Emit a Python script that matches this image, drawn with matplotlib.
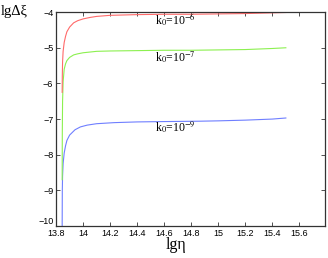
import matplotlib
matplotlib.use("Agg")
import matplotlib.pyplot as plt
from matplotlib.ticker import FuncFormatter

plt.rcParams["mathtext.fontset"] = "stix"

# data
x_red = [13.845, 13.846, 13.848, 13.852, 13.86, 13.87, 13.88, 13.9, 13.93, 13.96, 14.0, 14.05, 14.1, 14.2, 14.4, 14.6, 14.8, 15.0, 15.2, 15.4, 15.5]
y_red = [-6.25, -5.8, -5.4, -5.1, -4.85, -4.68, -4.55, -4.42, -4.3, -4.24, -4.19, -4.15, -4.12, -4.09, -4.07, -4.06, -4.06, -4.05, -4.04, -4.02, -4.01]

x_green = [13.845, 13.846, 13.848, 13.852, 13.86, 13.87, 13.88, 13.9, 13.93, 13.96, 14.0, 14.05, 14.1, 14.2, 14.4, 14.6, 14.8, 15.0, 15.2, 15.4, 15.5]
y_green = [-8.7, -7.4, -6.5, -5.95, -5.6, -5.45, -5.36, -5.27, -5.2, -5.17, -5.14, -5.12, -5.1, -5.09, -5.08, -5.07, -5.07, -5.06, -5.05, -5.02, -5.0]

x_blue = [13.845, 13.846, 13.848, 13.852, 13.86, 13.87, 13.88, 13.9, 13.94, 13.98, 14.03, 14.1, 14.23, 14.4, 14.6, 14.86, 15.0, 15.2, 15.4, 15.5]
y_blue = [-10.0, -9.0, -8.6, -8.25, -7.95, -7.75, -7.6, -7.45, -7.3, -7.22, -7.17, -7.13, -7.1, -7.08, -7.07, -7.06, -7.05, -7.03, -7.0, -6.97]

labels = ["k$_0$=10$^{-6}$", "k$_0$=10$^{-7}$", "k$_0$=10$^{-9}$"]
label_x = [14.53, 14.53, 14.53]
label_y = [-4.22, -5.27, -7.22]

x_ticks = [13.8, 14.0, 14.2, 14.4, 14.6, 14.8, 15.0, 15.2, 15.4, 15.6]
y_ticks = [-10, -9, -8, -7, -6, -5, -4]

fig = plt.figure(figsize=(3.28, 2.58), dpi=100)
ax = fig.add_axes([0.171, 0.124, 0.82, 0.829])

ax.plot(x_blue, y_blue, color="#6f7fff", lw=0.8)
ax.plot(x_green, y_green, color="#8cf050", lw=0.8)
ax.plot(x_red, y_red, color="#ff6a6a", lw=0.8)

for t, lx, ly in zip(labels, label_x, label_y):
    ax.text(lx, ly, t, fontsize=8.5, family="Liberation Serif", va="center", ha="left")

ax.set_xlim(13.8, 15.79)
ax.set_ylim(-10, -4)
ax.set_xticks(x_ticks)
ax.set_yticks(y_ticks)
ax.xaxis.set_major_formatter(FuncFormatter(lambda v, p: f"{v:g}"))
ax.yaxis.set_major_formatter(FuncFormatter(lambda v, p: f"\u2212{abs(v):g}" if v < 0 else f"{v:g}"))
ax.tick_params(direction="in", top=True, right=True, length=3, width=0.6,
               labelsize=6.5, pad=2, colors="#333333")
for lab in ax.get_xticklabels() + ax.get_yticklabels():
    lab.set_family("Liberation Sans")
    lab.set_color("black")
ax.get_yticklabels()[0].set_verticalalignment("bottom")
for s in ax.spines.values():
    s.set_color("#333333")
    s.set_linewidth(0.9)

fig.text(0.003, 0.955, "lg\u0394\u03be", fontsize=10.5, family="Liberation Serif", va="center", ha="left")
fig.text(0.535, 0.05, "lg\u03b7", fontsize=11.5, family="Liberation Serif", va="center", ha="center")

fig.savefig("out.png", dpi=100)
